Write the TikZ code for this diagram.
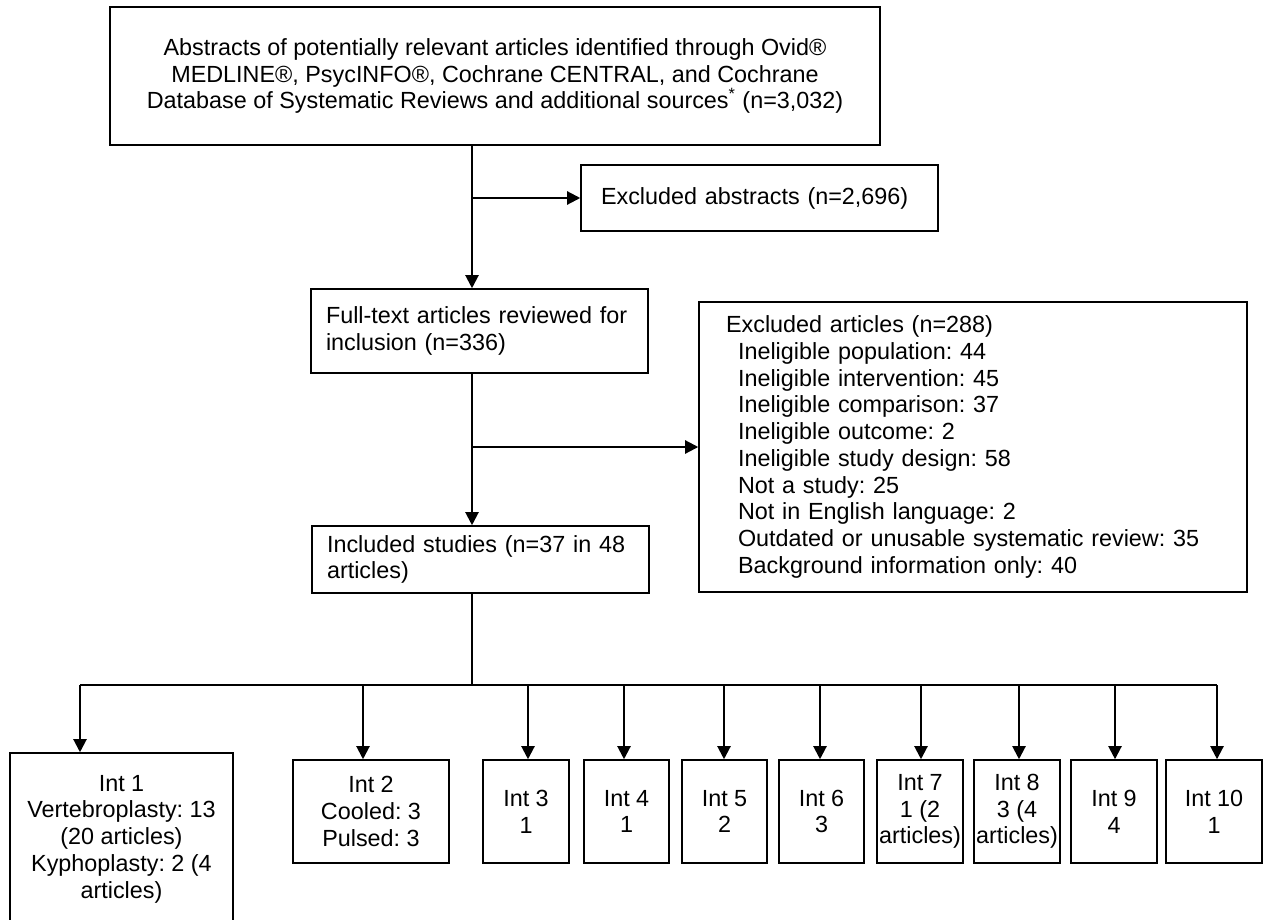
\documentclass[tikz,border=0pt]{standalone}
\usepackage{fontspec}
\setmainfont{Liberation Sans}
\usetikzlibrary{positioning, arrows.meta}
\frenchspacing

\newcommand{\exind}{\hspace*{0.24cm}}

\tikzset{
    box/.style={draw, line width=0.9pt, inner ysep=0pt, font=\fontsize{13.3}{15.2}\selectfont},
    lbox/.style={box, align=left, inner xsep=0.3cm},
    ibox/.style={box, align=center, inner xsep=0pt, minimum height=2.06cm},
    arr/.style={-{Triangle[length=7.5pt, width=7.5pt]}, line width=1.2pt},
}

\begin{document}
\begin{tikzpicture}[x=0.02cm, y=-0.02cm]

    \useasboundingbox (0,0) rectangle (1263,919);

    % Search and screening boxes
    \node[box, align=center, minimum width=15.4cm, minimum height=2.76cm] (search) at (495,76)
        {\raisebox{-0.08cm}{\parbox{15cm}{\centering
         Abstracts of potentially relevant articles identified through Ovid®\\
         MEDLINE®, PsycINFO®, Cochrane CENTRAL, and Cochrane\\
         Database of Systematic Reviews and additional sources\textsuperscript{*} (n=3,032)}}};
    \node[lbox, inner xsep=0.4cm, text width=6.34cm, minimum height=1.32cm] (exabs) at (759.5,198)
        {Excluded abstracts (n=2,696)};
    \node[lbox, text width=6.14cm, minimum height=1.68cm] (fulltext) at (479.5,331)
        {Full-text articles reviewed for\\inclusion (n=336)};
    \node[lbox, text width=6.14cm, minimum height=1.34cm] (included) at (480.5,559.5)
        {Included studies (n=37 in 48\\articles)};
    \node[lbox, inner xsep=0.54cm, text width=9.88cm, minimum height=5.8cm] (exart) at (973,447)
        {Excluded articles (n=288)\\
         \exind Ineligible population: 44\\
         \exind Ineligible intervention: 45\\
         \exind Ineligible comparison: 37\\
         \exind Ineligible outcome: 2\\
         \exind Ineligible study design: 58\\
         \exind Not a study: 25\\
         \exind Not in English language: 2\\
         \exind Outdated or unusable systematic review: 35\\
         \exind Background information only: 40};

    % Main flow
    \coordinate (spine) at (472,0);
    \draw[arr] (search.south -| spine) -- (fulltext.north -| spine);
    \draw[arr] (spine |- exabs.west) -- (exabs.west);
    \draw[arr] (fulltext.south -| spine) -- (included.north -| spine);
    \draw[arr] (spine |- exart.west) -- (exart.west);

    % Intervention boxes
    \node[box, align=center, inner xsep=0pt, minimum width=4.46cm, minimum height=3.44cm] (int1) at (121.5,839)
        {Int 1\\Vertebroplasty: 13\\(20 articles)\\Kyphoplasty: 2 (4\\articles)};
    \node[ibox, minimum width=3.12cm] (int2) at (371,811.5)
        {Int 2\\Cooled: 3\\Pulsed: 3};
    \foreach \i/\x/\w/\txt in {3/526/1.72/{Int 3\\1}, 4/626.5/1.7/{Int 4\\1},
            5/724.5/1.7/{Int 5\\2}, 6/821.5/1.7/{Int 6\\3},
            7/920/1.72/{Int 7\\1 (2\\articles)}, 8/1017/1.72/{Int 8\\3 (4\\articles)},
            9/1114/1.72/{Int 9\\4}, 10/1214/1.92/{Int 10\\1}}{
        \node[ibox, minimum width=\w cm] (int\i) at (\x,811.5) {\txt};
    }

    % Branches to interventions
    \foreach \i/\x in {1/80, 2/363, 3/528, 4/624, 5/724, 6/820, 7/921, 8/1019, 9/1115, 10/1217}{
        \coordinate (drop\i) at (\x,685);
        \draw[arr] (drop\i) -- (drop\i |- int\i.north);
    }
    \draw[line width=1.2pt] (drop1) -- (drop10);
    \draw[line width=0.7pt] (included.south -| spine) -- (spine |- drop1);

\end{tikzpicture}
\end{document}
